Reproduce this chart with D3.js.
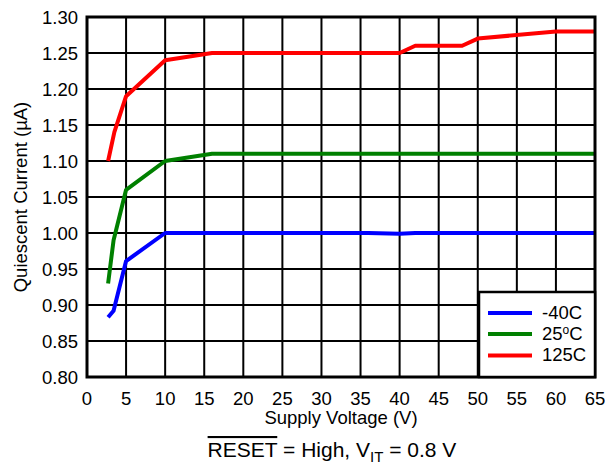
<!DOCTYPE html>
<html>
<head>
<meta charset="utf-8">
<script src="https://cdn.jsdelivr.net/npm/d3@7"></script>
<style>
  body { margin: 0; background: #fff; }
  svg text { font-family: "Liberation Sans", Arial, sans-serif; fill: #000; }
</style>
</head>
<body>
<svg id="chart" width="605" height="466"></svg>
<script>
// data
var xTicks = [0, 5, 10, 15, 20, 25, 30, 35, 40, 45, 50, 55, 60, 65];
var yTicks = [0.80, 0.85, 0.90, 0.95, 1.00, 1.05, 1.10, 1.15, 1.20, 1.25, 1.30];

var coldV = [2.7, 3.4, 5, 10, 16, 36, 40, 42, 65];
var coldI = [0.883, 0.892, 0.961, 1.00, 1.00, 1.00, 0.999, 1.00, 1.00];

var roomV = [2.7, 3.4, 5, 10, 16, 65];
var roomI = [0.93, 0.99, 1.06, 1.10, 1.11, 1.11];

var hotV = [2.7, 3.5, 5, 10, 16, 40, 42, 48, 50, 60, 65];
var hotI = [1.10, 1.14, 1.19, 1.24, 1.25, 1.25, 1.26, 1.26, 1.27, 1.28, 1.28];

var seriesNames = ["-40C", "25C", "125C"];
var seriesColors = ["#0000ff", "#008000", "#ff0000"];

var svg = d3.select("#chart");
var pLeft = 87, pTop = 17, pRight = 595, pBottom = 377;

var x = d3.scaleLinear().domain([0, 65]).range([pLeft, pRight]);
var y = d3.scaleLinear().domain([0.80, 1.30]).range([pBottom, pTop]);

// grid
svg.append("g").selectAll("line").data(xTicks.slice(1, -1)).enter().append("line")
    .attr("x1", function (d) { return x(d); })
    .attr("x2", function (d) { return x(d); })
    .attr("y1", pTop).attr("y2", pBottom)
    .attr("stroke", "#000").attr("stroke-width", 2);
svg.append("g").selectAll("line").data(yTicks.slice(1, -1)).enter().append("line")
    .attr("y1", function (d) { return y(d); })
    .attr("y2", function (d) { return y(d); })
    .attr("x1", pLeft).attr("x2", pRight)
    .attr("stroke", "#000").attr("stroke-width", 2);

// tick labels
svg.append("g").selectAll("text").data(yTicks).enter().append("text")
    .attr("x", 78)
    .attr("y", function (d) { return y(d); })
    .attr("dy", "0.36em")
    .attr("text-anchor", "end")
    .style("font-size", "18.5px")
    .text(function (d) { return d.toFixed(2); });
svg.append("g").selectAll("text").data(xTicks).enter().append("text")
    .attr("x", function (d) { return x(d); })
    .attr("y", 405)
    .attr("text-anchor", "middle")
    .style("font-size", "18.5px")
    .text(function (d) { return d; });

// series
var line = d3.line()
    .x(function (d) { return x(d[0]); })
    .y(function (d) { return y(d[1]); });
var series = [d3.zip(coldV, coldI), d3.zip(roomV, roomI), d3.zip(hotV, hotI)];
series.forEach(function (s, i) {
    svg.append("path")
        .datum(s)
        .attr("d", line)
        .attr("fill", "none")
        .attr("stroke", seriesColors[i])
        .attr("stroke-width", 4)
        .attr("stroke-linejoin", "round");
});

// frame
svg.append("rect")
    .attr("x", pLeft).attr("y", pTop)
    .attr("width", pRight - pLeft).attr("height", pBottom - pTop)
    .attr("fill", "none").attr("stroke", "#000").attr("stroke-width", 3);

// legend
var legend = svg.append("g");
legend.append("rect")
    .attr("x", 479).attr("y", 292)
    .attr("width", pRight - 479).attr("height", pBottom - 292)
    .attr("fill", "#fff").attr("stroke", "#000").attr("stroke-width", 2.5);
var legendY = [313, 334, 355.5];
seriesNames.forEach(function (n, i) {
    legend.append("line")
        .attr("x1", 488).attr("x2", 532)
        .attr("y1", legendY[i]).attr("y2", legendY[i])
        .attr("stroke", seriesColors[i]).attr("stroke-width", 4);
    var t = legend.append("text")
        .attr("x", 542).attr("y", legendY[i] + 5.5)
        .style("font-size", "18.5px");
    if (n === "25C") {
        t.append("tspan").text("25");
        t.append("tspan").attr("dy", -6).style("font-size", "12px").text("o");
        t.append("tspan").attr("dy", 6).text("C");
    } else {
        t.text(n);
    }
});

// axis titles
svg.append("text")
    .attr("x", (pLeft + pRight) / 2).attr("y", 424)
    .attr("text-anchor", "middle")
    .style("font-size", "18.5px")
    .text("Supply Voltage (V)");
svg.append("text")
    .attr("transform", "translate(27," + ((pTop + pBottom) / 2) + ") rotate(-90)")
    .attr("text-anchor", "middle")
    .style("font-size", "18.5px")
    .text("Quiescent Current (\u00b5A)");

// caption
var cap = svg.append("text")
    .attr("x", 332).attr("y", 457)
    .attr("text-anchor", "middle")
    .style("font-size", "21px");
cap.append("tspan").style("text-decoration", "overline").text("RESET");
cap.append("tspan").text(" = High, V");
cap.append("tspan").attr("dy", 5).style("font-size", "15px").text("IT");
cap.append("tspan").attr("dy", -5).text(" = 0.8 V");
</script>
</body>
</html>
